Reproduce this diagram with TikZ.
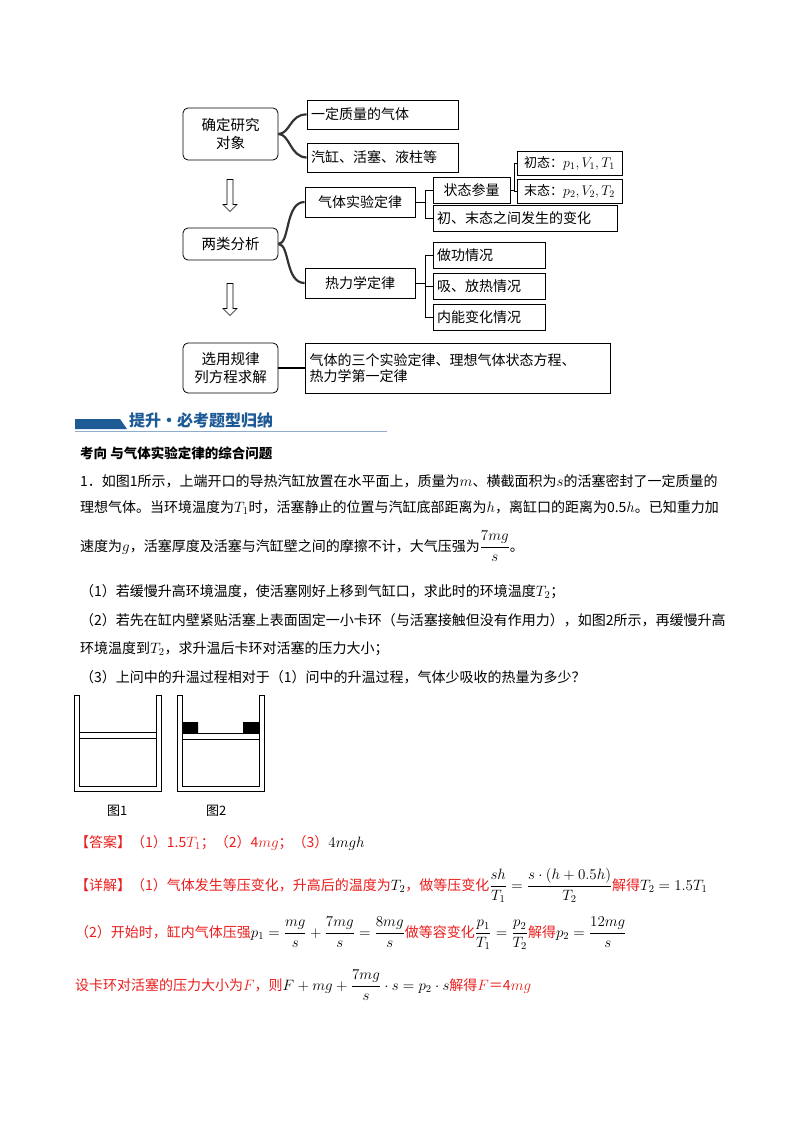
\RequirePackage{fix-cm}
\documentclass[tikz,border=0pt]{standalone}
\usepackage{amsmath}
\usepackage{fontspec}
\setmainfont{Noto Sans CJK SC}
\DeclareMathSizes{14}{15}{10.5}{8}
\DeclareMathSizes{13}{14}{10}{7.5}
\usetikzlibrary{shapes.arrows}
\definecolor{hblue}{RGB}{30,90,150}
\definecolor{ans}{RGB}{235,30,30}
\begin{document}
\begin{tikzpicture}[x=1pt,y=-1pt,
  bx/.style={draw,line width=0.8pt,inner sep=3pt,font=\fontsize{14}{16}\selectfont},
  rbx/.style={bx,rounded corners=5pt,align=center,font=\fontsize{14.5}{18}\selectfont},
  txt/.style={anchor=base west,inner sep=0,font=\fontsize{14}{16}\selectfont},
  brace/.style={line width=2.2pt,draw=black!80},
  conn/.style={line width=0.8pt},
  harrow/.style={draw,single arrow,shape border rotate=270,minimum height=32pt,minimum width=14pt,single arrow head extend=3pt,inner sep=2pt,line width=0.6pt}]
\useasboundingbox (0,0) rectangle (800,1132);
\fill[white] (0,0) rectangle (800,1132);
% top diagram
\node[rbx,minimum width=95pt,minimum height=52pt] (a) at (230.5,134) {确定研究\\对象};
\node[bx,minimum width=151pt,minimum height=29pt,text width=143pt] (a1) at (382.5,114.5) {一定质量的气体};
\node[bx,minimum width=151pt,minimum height=29pt,text width=143pt] (a2) at (382.5,157.5) {汽缸、活塞、液柱等};
\draw[brace] (a.east) .. controls (290,134) and (290,114) .. (a1.west);
\draw[brace] (a.east) .. controls (290,134) and (290,157) .. (a2.west);
\node[harrow] (ar1) at (230,194) {};
\node[rbx,minimum width=95pt,minimum height=32pt] (b) at (230.5,244) {两类分析};
\node[bx,minimum width=110pt,minimum height=30pt] (b1) at (360,202) {气体实验定律};
\node[bx,minimum width=110pt,minimum height=30pt] (b2) at (360,283) {热力学定律};
\draw[brace] (b.east) .. controls (290,244) and (285,202) .. (b1.west);
\draw[brace] (b.east) .. controls (290,244) and (285,283) .. (b2.west);
\node[bx,minimum width=77pt,minimum height=26pt] (c1) at (471.5,190) {状态参量};
\node[bx,minimum width=184pt,minimum height=26pt,text width=176pt] (c2) at (525,218) {初、末态之间发生的变化};
\node[bx,minimum width=105pt,minimum height=24pt,inner sep=1pt,font=\fontsize{13}{15}\selectfont] (d1) at (569.5,163) {初态：$p_1,V_1,T_1$};
\node[bx,minimum width=105pt,minimum height=24pt,inner sep=1pt,font=\fontsize{13}{15}\selectfont] (d2) at (569.5,191) {末态：$p_2,V_2,T_2$};
\draw[conn] (b1.east) -- ++(10,0) coordinate (j1);
\draw[conn] (j1 |- c1.west) -- (j1 |- c2.west);
\draw[conn] (j1 |- c1.west) -- (c1.west) (j1 |- c2.west) -- (c2.west);
\draw[conn] (c1.east) -- ++(4,0) coordinate (j2);
\draw[conn] (j2) -- ++(0,-27) -- (d1.west);
\draw[conn] (j2) -- ++(0,1) -- (d2.west);
\node[bx,minimum width=112pt,minimum height=26pt,text width=104pt] (e1) at (489,255) {做功情况};
\node[bx,minimum width=112pt,minimum height=26pt,text width=104pt] (e2) at (489,286) {吸、放热情况};
\node[bx,minimum width=112pt,minimum height=26pt,text width=104pt] (e3) at (489,317.5) {内能变化情况};
\draw[conn] (b2.east) -- ++(10,0) coordinate (j3);
\draw[conn] (j3 |- e1.west) -- (j3 |- e3.west);
\draw[conn] (j3 |- e1.west) -- (e1.west) (j3 |- e2.west) -- (e2.west) (j3 |- e3.west) -- (e3.west);
\node[harrow] (ar2) at (230,298) {};
\node[rbx,minimum width=95pt,minimum height=50pt] (f) at (230.5,368) {选用规律\\列方程求解};
\node[bx,minimum width=305pt,minimum height=50pt,text width=296pt,align=left] (f1) at (457.5,368) {气体的三个实验定律、理想气体状态方程、\\热力学第一定律};
\draw[line width=1.2pt] (f.east) -- (f1.west);
% header
\fill[hblue] (75,419) -- (120,419) -- (127,429) -- (75,429) -- cycle;
\node[txt,text=hblue,font=\fontsize{16}{18}\selectfont\bfseries] (h) at (129,426) {提升·必考题型归纳};
\draw[hblue!50,line width=0.8pt] (75,431) -- (387,431);
% text
\node[txt,font=\fontsize{13.5}{15}\selectfont\bfseries] (t0) at (80,458) {考向\ 与气体实验定律的综合问题};
\node[txt] (t1) at (80,486) {1．如图1所示，上端开口的导热汽缸放置在水平面上，质量为$m$、横截面积为$s$的活塞密封了一定质量的};
\node[txt] (t2) at (80,512) {理想气体。当环境温度为$T_1$时，活塞静止的位置与汽缸底部距离为$h$，离缸口的距离为0.5$h$。已知重力加};
\node[txt] (t3) at (80,551) {速度为$g$，活塞厚度及活塞与汽缸壁之间的摩擦不计，大气压强为$\dfrac{7mg}{s}$。};
\node[txt] (t4) at (80,596) {（1）若缓慢升高环境温度，使活塞刚好上移到气缸口，求此时的环境温度$T_2$；};
\node[txt] (t5) at (80,625) {（2）若先在缸内壁紧贴活塞上表面固定一小卡环（与活塞接触但没有作用力），如图2所示，再缓慢升高};
\node[txt] (t6) at (80,653) {环境温度到$T_2$，求升温后卡环对活塞的压力大小；};
\node[txt] (t7) at (80,682) {（3）上问中的升温过程相对于（1）问中的升温过程，气体少吸收的热量为多少？};
% figures
\draw[line width=0.7pt] (74,695) -- (74,791) -- (161,791) -- (161,695) -- (156,695) -- (156,786) -- (79,786) -- (79,695) -- cycle;
\draw[line width=0.7pt] (79,732) -- (156,732) (79,738) -- (156,738);
\draw[line width=0.7pt] (177,695) -- (177,791) -- (264,791) -- (264,695) -- (259,695) -- (259,786) -- (182,786) -- (182,695) -- cycle;
\fill (182,722) rectangle (198,733) (243,722) rectangle (259,733);
\draw[line width=0.7pt] (182,733) -- (259,733) (182,739) -- (259,739);
\node[txt,font=\fontsize{13}{14}\selectfont] (g1) at (107,815) {图1};
\node[txt,font=\fontsize{13}{14}\selectfont] (g2) at (206,815) {图2};
% answer
\node[txt] (an) at (75,847) {\textcolor{ans}{【答案】（1）1.5$T_1$；（2）4$mg$；（3）}$4mgh$};
\node[txt,text=ans] (x1) at (75,890) {【详解】（1）气体发生等压变化，升高后的温度为\textcolor{black}{$T_2$}，做等压变化\textcolor{black}{$\dfrac{sh}{T_1}=\dfrac{s\cdot(h+0.5h)}{T_2}$}解得\textcolor{black}{$T_2=1.5T_1$}};
\node[txt,text=ans] (x2) at (75,937) {（2）开始时，缸内气体压强\textcolor{black}{$p_1=\dfrac{mg}{s}+\dfrac{7mg}{s}=\dfrac{8mg}{s}$}做等容变化\textcolor{black}{$\dfrac{p_1}{T_1}=\dfrac{p_2}{T_2}$}解得\textcolor{black}{$p_2=\dfrac{12mg}{s}$}};
\node[txt,text=ans] (x3) at (75,990) {设卡环对活塞的压力大小为$F$，则\textcolor{black}{$F+mg+\dfrac{7mg}{s}\cdot s=p_2\cdot s$}解得$F$＝4$mg$};
\end{tikzpicture}
\end{document}
